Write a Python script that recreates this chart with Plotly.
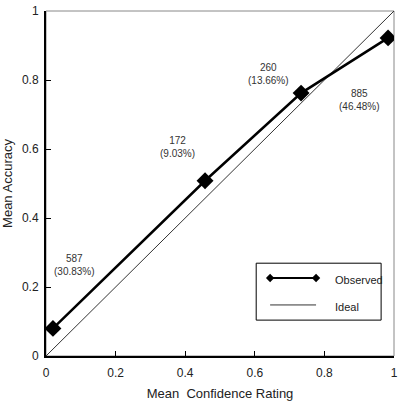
import plotly.graph_objects as go

# Data
confidence = [0.02, 0.457, 0.733, 0.983]
accuracy = [0.08, 0.508, 0.762, 0.922]
ideal_x = [0, 1]
ideal_y = [0, 1]
bin_labels = ["587<br>(30.83%)", "172<br>(9.03%)", "260<br>(13.66%)", "885<br>(46.48%)"]
label_x = [0.083, 0.379, 0.638, 0.902]
label_y = [0.264, 0.606, 0.817, 0.742]
tick_vals = [0, 0.2, 0.4, 0.6, 0.8, 1]
tick_text = ["0", "0.2", "0.4", "0.6", "0.8", "1"]

NARROW = "Liberation Sans Narrow, Liberation Sans, Arial"
SANS = "Liberation Sans, Arial"

fig = go.Figure()
fig.add_trace(go.Scatter(x=ideal_x, y=ideal_y, mode="lines",
                         line=dict(color="#333333", width=1), name="Ideal",
                         showlegend=False, hoverinfo="skip"))
fig.add_trace(go.Scatter(x=confidence, y=accuracy, mode="lines+markers",
                         line=dict(color="black", width=2.5),
                         marker=dict(symbol="diamond", size=13, color="black"),
                         name="Observed", showlegend=False))

for t, x, y in zip(bin_labels, label_x, label_y):
    fig.add_annotation(x=x, y=y, text=t, showarrow=False,
                       font=dict(family=NARROW, size=10, color="#333333"))

# Frame (top/right thin grey)
fig.add_shape(type="rect", xref="paper", yref="paper", x0=0, y0=0, x1=1, y1=1,
              line=dict(color="#888888", width=1), layer="below")

# Manual legend
lx0, lx1, ly0, ly1 = 0.604, 0.963, 0.104, 0.269
fig.add_shape(type="rect", xref="paper", yref="paper", x0=lx0, x1=lx1, y0=ly0, y1=ly1,
              line=dict(color="black", width=1), fillcolor="white")
fig.add_shape(type="line", xref="paper", yref="paper", x0=0.644, x1=0.776, y0=0.226, y1=0.226,
              line=dict(color="black", width=2))
for mx in [0.644, 0.776]:
    fig.add_shape(type="path", xref="paper", yref="paper",
                  path=f"M {mx-0.012},0.226 L {mx},0.2385 L {mx+0.012},0.226 L {mx},0.2135 Z",
                  fillcolor="black", line=dict(color="black", width=0))
fig.add_shape(type="line", xref="paper", yref="paper", x0=0.644, x1=0.776, y0=0.148, y1=0.148,
              line=dict(color="#333333", width=1))
fig.add_annotation(xref="paper", yref="paper", x=0.824, y=0.226, text="Observed", showarrow=False,
                   xanchor="left", yanchor="middle", yshift=-2,
                   font=dict(family=NARROW, size=11, color="#222222"))
fig.add_annotation(xref="paper", yref="paper", x=0.824, y=0.148, text="Ideal", showarrow=False,
                   xanchor="left", yanchor="middle", yshift=-2,
                   font=dict(family=NARROW, size=11, color="#222222"))

axis_common = dict(range=[0, 1], tickvals=tick_vals, ticktext=tick_text, ticks="inside",
                   ticklen=5, tickcolor="black", tickwidth=1, showgrid=False, zeroline=False,
                   showline=True, linecolor="black", linewidth=2, automargin=False,
                   tickfont=dict(family=SANS, size=12, color="#222222"))
fig.update_xaxes(**axis_common, ticklabelstandoff=5,
                 title=dict(text="Mean  Confidence Rating", standoff=10,
                            font=dict(family=SANS, size=13, color="#222222")))
fig.update_yaxes(**axis_common, ticklabelstandoff=3,
                 title=dict(text="Mean Accuracy", standoff=6,
                            font=dict(family=SANS, size=13, color="#222222")))

fig.update_layout(width=399, height=401, margin=dict(l=46, r=5, t=11, b=45),
                  plot_bgcolor="white", paper_bgcolor="white")
fig.write_html("out.html")
